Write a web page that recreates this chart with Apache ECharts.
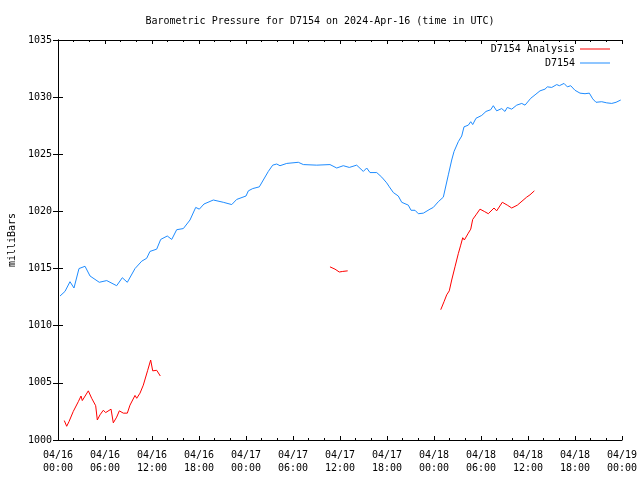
<!DOCTYPE html>
<html>
<head>
<meta charset="utf-8">
<script src="https://cdn.jsdelivr.net/npm/echarts@6/dist/echarts.min.js"></script>
<style>html,body{margin:0;padding:0;background:#fff}#c{width:640px;height:480px}</style>
</head>
<body>
<div id="c"></div>
<script>
// Hours since 2024-04-16 00:00 UTC
var stationTime = [0.26,0.89,1.53,2.04,2.68,3.45,4.09,5.27,6.22,7.49,8.21,8.85,9.83,10.69,11.32,11.74,12.6,13.11,13.95,14.52,15.15,16.0,16.85,17.58,18.04,18.64,19.83,21.1,22.18,22.81,24.0,24.3,24.86,25.7,26.21,26.85,27.41,27.92,28.34,29.2,30.68,31.32,33.03,34.72,35.58,36.42,37.19,38.13,38.98,39.41,39.83,40.69,41.33,41.96,42.3,42.81,43.44,43.88,44.72,45.07,45.58,46.0,46.64,47.49,47.91,48.55,49.19,49.83,50.26,50.56,51.1,51.54,51.83,52.38,52.69,52.94,53.36,54.09,54.64,55.24,55.57,56.0,56.64,57.06,57.36,57.92,58.56,59.2,59.62,60.35,60.9,61.53,62.17,62.47,63.03,63.67,64.0,64.6,65.02,65.45,66.0,66.64,67.28,67.83,68.26,68.68,68.85,69.41,70.05,70.69,71.24,71.84];
var stationPressure = [1012.6,1013.0,1013.85,1013.3,1015.0,1015.2,1014.35,1013.8,1013.95,1013.5,1014.2,1013.8,1015.0,1015.65,1015.9,1016.5,1016.7,1017.55,1017.85,1017.55,1018.4,1018.5,1019.25,1020.35,1020.2,1020.65,1021.0,1020.8,1020.6,1021.05,1021.35,1021.8,1022.0,1022.15,1022.75,1023.5,1024.05,1024.15,1024.0,1024.2,1024.3,1024.1,1024.05,1024.1,1023.8,1024.0,1023.85,1024.05,1023.5,1023.8,1023.4,1023.4,1023.0,1022.5,1022.15,1021.65,1021.35,1020.8,1020.55,1020.1,1020.1,1019.8,1019.85,1020.2,1020.35,1020.85,1021.25,1023.2,1024.5,1025.25,1026.1,1026.6,1027.4,1027.55,1027.85,1027.6,1028.15,1028.4,1028.75,1028.9,1029.25,1028.8,1029.0,1028.75,1029.1,1028.95,1029.3,1029.45,1029.3,1029.9,1030.2,1030.55,1030.7,1030.9,1030.85,1031.1,1031.0,1031.2,1030.9,1031.0,1030.6,1030.35,1030.3,1030.35,1029.85,1029.55,1029.65,1029.6,1029.5,1029.45,1029.55,1029.75];
// null marks a gap in the analysis series
var analysisTime = [0.8,1.11,1.4,1.95,2.59,2.94,3.1,3.87,4.3,4.81,5.02,5.36,5.78,6.09,6.77,7.06,7.49,7.83,8.34,8.85,9.19,9.83,10.05,10.47,10.89,11.45,11.83,12.09,12.6,12.8,13.06,20,34.72,35.36,35.91,36.35,36.98,42,48.86,49.28,49.62,49.95,50.26,50.68,51.1,51.41,51.67,51.87,52.38,52.69,52.94,53.36,53.87,54.42,54.93,55.66,56.0,56.72,57.36,57.92,58.64,59.83,60.25,60.81];
var analysisPressure = [1001.7,1001.2,1001.6,1002.5,1003.35,1003.85,1003.45,1004.3,1003.65,1003.0,1001.75,1002.2,1002.6,1002.4,1002.7,1001.5,1002.0,1002.55,1002.35,1002.35,1003.05,1003.9,1003.65,1004.1,1004.8,1006.1,1007.0,1006.05,1006.1,1006.05,1005.6,null,1015.15,1014.95,1014.7,1014.75,1014.8,null,1011.4,1012.1,1012.7,1013.05,1014.0,1015.15,1016.3,1017.05,1017.7,1017.5,1018.1,1018.45,1019.3,1019.7,1020.2,1020.0,1019.8,1020.3,1020.05,1020.8,1020.55,1020.3,1020.55,1021.25,1021.45,1021.8];
var dayLabels = ['04/16','04/16','04/16','04/16','04/17','04/17','04/17','04/17','04/18','04/18','04/18','04/18','04/19'];
var hourLabels = ['00:00','06:00','12:00','18:00','00:00','06:00','12:00','18:00','00:00','06:00','12:00','18:00','00:00'];

var FONT = 'DejaVu Sans Mono';
function pairs(t, v) {
  var out = [];
  for (var i = 0; i < t.length; i++) out.push(v[i] === null ? [t[i], '-'] : [t[i], v[i]]);
  return out;
}
var chart = echarts.init(document.getElementById('c'), null, {renderer: 'canvas'});
var axisLine = {show: true, lineStyle: {color: '#000', width: 1}};
chart.setOption({
  animation: false,
  backgroundColor: '#fff',
  title: {
    text: 'Barometric Pressure for D7154 on 2024-Apr-16 (time in UTC)',
    left: 'center', top: 11,
    textStyle: {fontFamily: FONT, fontSize: 10, fontWeight: 'normal', color: '#000'}
  },
  legend: {
    orient: 'vertical', right: 25, top: 39, align: 'right',
    itemWidth: 30, itemHeight: 1, itemGap: 4,
    icon: 'rect',
    textStyle: {fontFamily: FONT, fontSize: 10, color: '#000'},
    data: ['D7154 Analysis', 'D7154']
  },
  grid: {left: 58, right: 18, top: 40, bottom: 40, containLabel: false, outerBoundsMode: 'none'},
  xAxis: [{
    type: 'value', min: 0, max: 72, interval: 6, position: 'bottom',
    axisLine: axisLine,
    axisTick: {show: true, inside: true, length: 4, lineStyle: {color: '#000'}},
    minorTick: {show: true, splitNumber: 3, length: 2, lineStyle: {color: '#000'}},
    splitLine: {show: false},
    axisLabel: {
      margin: 9, fontFamily: FONT, fontSize: 10, color: '#000', lineHeight: 13,
      formatter: function (v) { var i = Math.round(v / 6); return dayLabels[i] + '\n' + hourLabels[i]; }
    }
  }, {
    type: 'value', min: 0, max: 72, interval: 6, position: 'top',
    axisLine: axisLine,
    axisTick: {show: true, inside: true, length: 4, lineStyle: {color: '#000'}},
    minorTick: {show: true, splitNumber: 3, length: 2, lineStyle: {color: '#000'}},
    splitLine: {show: false}, axisLabel: {show: false}
  }],
  yAxis: [{
    type: 'value', min: 1000, max: 1035, interval: 5, position: 'left',
    name: 'milliBars', nameLocation: 'middle', nameGap: 41,
    nameTextStyle: {fontFamily: FONT, fontSize: 10, color: '#000'},
    axisLine: axisLine,
    axisTick: {show: true, inside: true, length: 5, lineStyle: {color: '#000'}},
    splitLine: {show: false},
    axisLabel: {margin: 6, fontFamily: FONT, fontSize: 10, color: '#000', formatter: function (v) { return String(v); }}
  }, {
    type: 'value', min: 1000, max: 1035, interval: 5, position: 'right',
    axisLine: axisLine,
    axisTick: {show: true, inside: true, length: 5, lineStyle: {color: '#000'}},
    splitLine: {show: false}, axisLabel: {show: false}
  }],
  series: [{
    name: 'D7154 Analysis', type: 'line', xAxisIndex: 0, yAxisIndex: 0,
    data: pairs(analysisTime, analysisPressure),
    showSymbol: false, connectNulls: false,
    lineStyle: {color: '#ff0000', width: 1}, itemStyle: {color: '#ff0000'}
  }, {
    name: 'D7154', type: 'line', xAxisIndex: 0, yAxisIndex: 0,
    data: pairs(stationTime, stationPressure),
    showSymbol: false,
    lineStyle: {color: '#1e8cff', width: 1}, itemStyle: {color: '#1e8cff'}
  }]
});
</script>
</body>
</html>
